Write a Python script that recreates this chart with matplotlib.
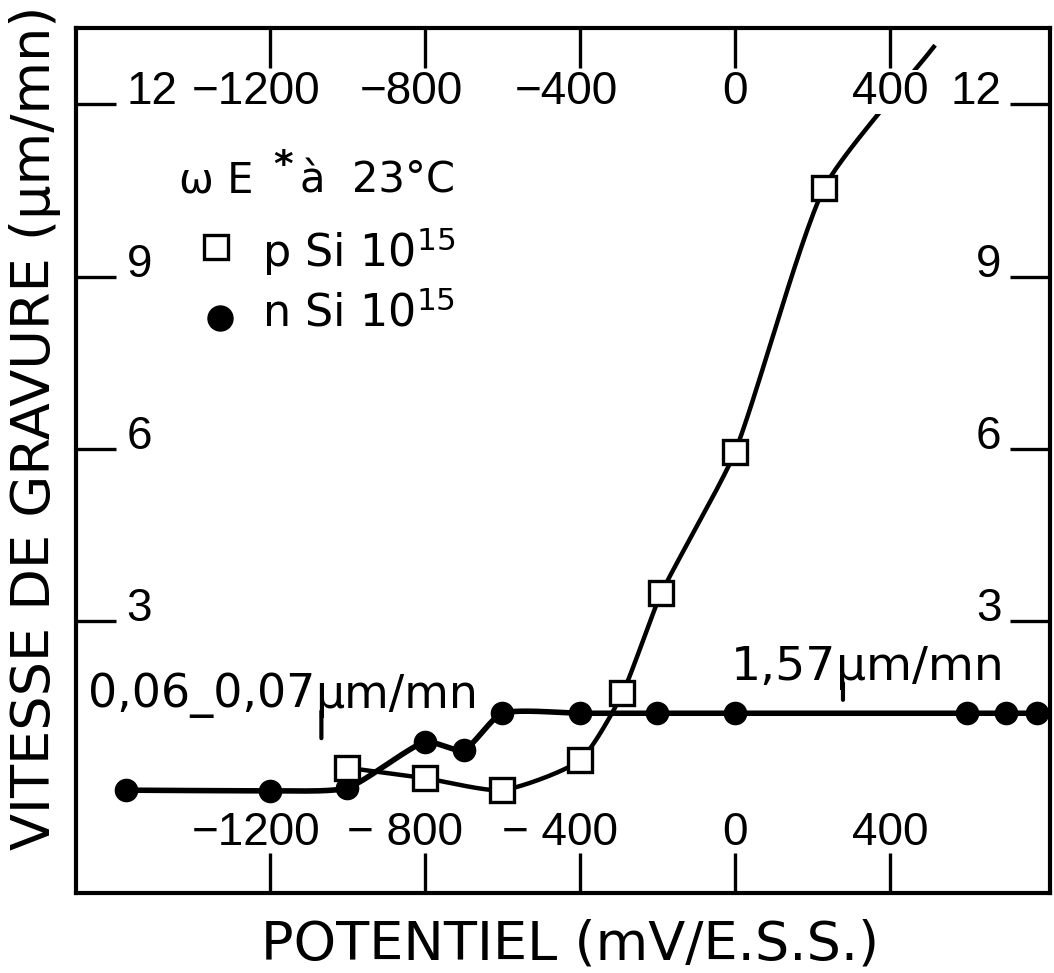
import numpy as np
import matplotlib
matplotlib.use("Agg")
from matplotlib import pyplot as plt
from matplotlib.transforms import blended_transform_factory

# p Si 10^15 (carres)
potentiel_p = [-1000, -800, -600, -400, -290, -190, 0, 230]
vitesse_p = [0.44, 0.26, 0.05, 0.57, 1.74, 3.48, 5.94, 10.54]
# le trait continue au dela du dernier point
potentiel_p_suite = [513]
vitesse_p_suite = [13.0]

# n Si 10^15 (ronds)
potentiel_n = [-1570, -1200, -1000, -800, -700, -600, -400, -200, 0, 600, 700, 780]
vitesse_n = [0.05, 0.04, 0.09, 0.89, 0.75, 1.39, 1.39, 1.39, 1.39, 1.39, 1.39, 1.39]

graduations_x = [-1200, -800, -400, 0, 400]
etiquettes_x_haut = ["−1200", "−800", "−400", "0", "400"]
etiquettes_x_bas = ["−1200", "− 800", "− 400", "0", "400"]
graduations_y = [3, 6, 9, 12]
etiquettes_y = ["3", "6", "9", "12"]

plt.rcParams['font.family'] = ['DejaVu Sans']
plt.rcParams['mathtext.fontset'] = 'dejavusans'


def lisse(x, y, n=30, k=0.6):
    # hermite avec tangentes proportionnelles a la corde, en echelle ~pixel
    sx, sy = 0.3875, 57.4
    P = np.column_stack([np.asarray(x, float) * sx, np.asarray(y, float) * sy])
    m = len(P)
    d = np.zeros_like(P)
    for i in range(m):
        v = P[min(i + 1, m - 1)] - P[max(i - 1, 0)]
        d[i] = v / np.hypot(*v)
    t = np.linspace(0, 1, n, endpoint=False)[:, None]
    h00 = 2 * t ** 3 - 3 * t ** 2 + 1
    h10 = t ** 3 - 2 * t ** 2 + t
    h01 = -2 * t ** 3 + 3 * t ** 2
    h11 = t ** 3 - t ** 2
    morceaux = []
    for i in range(m - 1):
        L = np.hypot(*(P[i + 1] - P[i]))
        morceaux.append(h00 * P[i] + h10 * k * L * d[i] + h01 * P[i + 1] + h11 * k * L * d[i + 1])
    morceaux.append(P[-1:])
    out = np.vstack(morceaux)
    return out[:, 0] / sx, out[:, 1] / sy


fig = plt.figure(figsize=(10.54, 9.73), dpi=100)
ax = fig.add_axes([76 / 1054, 1 - 893 / 973, 974 / 1054, 865 / 973])
ax.set_xlim(-1700, 813)
ax.set_ylim(-1.742, 13.33)

# courbe n Si
cx, cy = lisse(potentiel_n, vitesse_n)
ax.plot(cx, cy, color='black', lw=4, zorder=2, solid_capstyle='round')
ax.plot(potentiel_n, vitesse_n, 'o', color='black', ms=16, zorder=3)

# courbe p Si
cx, cy = lisse(potentiel_p + potentiel_p_suite, vitesse_p + vitesse_p_suite)
ax.plot(cx, cy, color='black', lw=3.2, zorder=2)
ax.plot(potentiel_p, vitesse_p, 's', mfc='white', mec='black', mew=2.4, ms=17, zorder=4)

# cadre et graduations
for s in ax.spines.values():
    s.set_linewidth(3)
ax.set_xticks(graduations_x)
ax.set_yticks(graduations_y)
ax.tick_params(direction='in', length=29, width=2.4, top=True, right=True,
               labelleft=False, labelbottom=False, labeltop=False, labelright=False)

tx = blended_transform_factory(ax.transData, ax.transAxes)
ty = blended_transform_factory(ax.transAxes, ax.transData)
police_grad = 'Liberation Sans'
fs = 33
for v, lh, lb in zip(graduations_x, etiquettes_x_haut, etiquettes_x_bas):
    dh = 10 if lh.startswith("−") else 0
    db = (14 if " " in lb else 10) if lb.startswith("−") else 0
    t = ax.annotate(lh, (v, 0.926), xycoords=tx, xytext=(-dh, 0), textcoords='offset points',
                    ha='center', va='center', fontsize=fs, family=police_grad, zorder=5)
    if lh == "400":
        t.set_bbox(dict(facecolor='white', edgecolor='none', pad=0))
    ax.annotate(lb, (v, 0.069), xycoords=tx, xytext=(-db, 0), textcoords='offset points',
                ha='center', va='center', fontsize=fs, family=police_grad, zorder=5)
for v, e in zip(graduations_y, etiquettes_y):
    ax.text(0.052, v, e, transform=ty, ha='left', va='baseline', fontsize=fs, family=police_grad)
    ax.text(0.950, v, e, transform=ty, ha='right', va='baseline', fontsize=fs, family=police_grad)

# legende
ax.text(0.106, 0.810, "ω E", transform=ax.transAxes, fontsize=30, va='baseline')
ax.text(0.203, 0.829, "*", transform=ax.transAxes, fontsize=27, va='baseline', weight='bold')
ax.text(0.230, 0.810, "à  23°C", transform=ax.transAxes, fontsize=30, va='baseline')
ax.plot([0.144], [0.747], 's', transform=ax.transAxes, mfc='white', mec='black', mew=2.4, ms=17)
ax.text(0.191, 0.724, "p Si 10$^{15}$", transform=ax.transAxes, fontsize=32, va='baseline')
ax.plot([0.148], [0.665], 'o', transform=ax.transAxes, color='black', ms=18)
ax.text(0.191, 0.655, "n Si 10$^{15}$", transform=ax.transAxes, fontsize=32, va='baseline')


def note(x, y, debut, fin, taille, trait):
    # texte en deux morceaux : le jambage du mu descend vers la courbe
    a = ax.text(x, y, debut, fontsize=taille, va='baseline')
    b = ax.annotate(fin, xy=(1, 0), xycoords=a, va='bottom', ha='left', fontsize=taille)
    ax.annotate("", xy=(0.04, -trait), xycoords=b, xytext=(0.04, 0.15), textcoords=b,
                arrowprops=dict(arrowstyle='-', lw=3, shrinkA=0, shrinkB=0))


note(-1670, 1.50, "0,06_0,07", "µm/mn", 33, 0.45)
note(-10, 1.97, "1,57", "µm/mn", 34, 0.22)

fig.text(35 / 1054, 1 - 428 / 973, "VITESSE DE GRAVURE (µm/mn)", rotation=90,
         ha='center', va='center', fontsize=39)
fig.text(570 / 1054, 1 - 960 / 973, "POTENTIEL (mV/E.S.S.)", ha='center', va='baseline',
         fontsize=39)

fig.savefig('out.png', dpi=100)
